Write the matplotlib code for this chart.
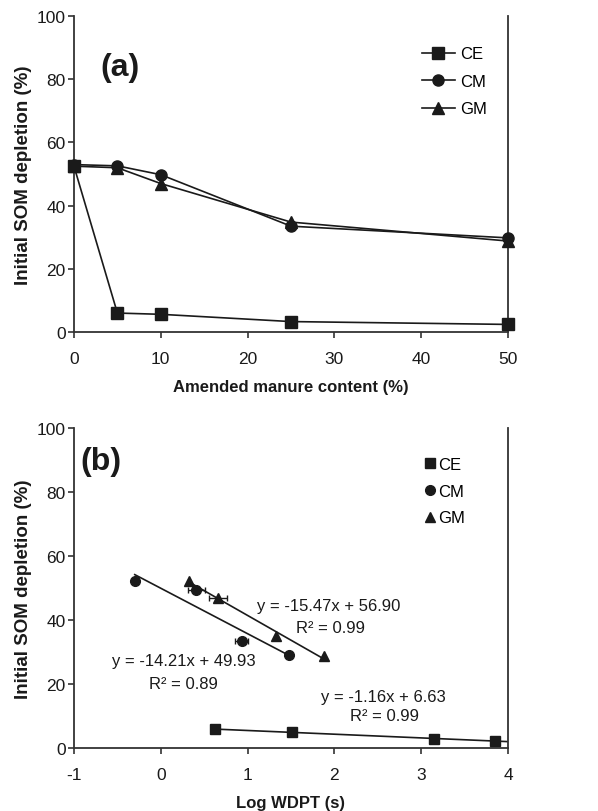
import matplotlib.pyplot as plt
from matplotlib.lines import Line2D

plt.rcParams['font.family'] = ['Liberation Sans', 'DejaVu Sans']
plt.rcParams['axes.unicode_minus'] = False

# Panel (a) data
manure = [0, 5, 10, 25, 50]
ce_a = [52.5, 6.0, 5.6, 3.3, 2.4]
cm_a = [53.0, 52.6, 49.8, 33.5, 29.8]
gm_a = [52.5, 52.0, 47.0, 34.8, 28.8]

# Panel (b) data
ce_x = [0.63, 1.51, 3.15, 3.85]
ce_y = [5.8, 5.0, 2.9, 2.2]
cm_x = [-0.30, 0.41, 0.93, 1.48]
cm_y = [52.2, 49.5, 33.5, 29.1]
cm_xerr = [0.0, 0.10, 0.075, 0.0]
gm_x = [0.32, 0.66, 1.33, 1.88]
gm_y = [52.3, 47.0, 35.0, 28.6]
gm_xerr = [0.0, 0.10, 0.0, 0.0]

# fitted lines (slope, intercept, x start, x end)
ce_fit = (-1.16, 6.63, 0.63, 4.0)
cm_fit = (-14.21, 49.93, -0.30, 1.48)
gm_fit = (-15.47, 56.90, 0.32, 1.90)

ink = '#1a1a1a'
spine_col = '#333333'

fig = plt.figure(figsize=(5.98, 8.12), dpi=100)
ax_a = fig.add_axes([0.1237, 0.5899, 0.7258, 0.389])
ax_b = fig.add_axes([0.1237, 0.0776, 0.7258, 0.394])


def style_axes(ax):
    for side in ['left', 'bottom', 'right']:
        ax.spines[side].set_color(spine_col)
        ax.spines[side].set_linewidth(1.3)
    ax.spines['top'].set_visible(False)
    ax.tick_params(direction='out', length=4, width=1.2, colors=spine_col,
                   labelsize=12.5, labelcolor=ink, right=False, top=False)
    ax.tick_params(axis='x', pad=10)
    ax.tick_params(axis='y', pad=2)
    ax.set_ylim(0, 100)
    ax.set_yticks([0, 20, 40, 60, 80, 100])
    ax.set_ylabel('Initial SOM depletion (%)', fontsize=13.5,
                  fontweight='bold', color=ink, labelpad=3)


# (a)
ax_a.plot(manure, ce_a, '-s', color=ink, lw=1.2, ms=8, label='CE',
          clip_on=False, zorder=3)
ax_a.plot(manure, cm_a, '-o', color=ink, lw=1.2, ms=8, label='CM',
          clip_on=False, zorder=3)
ax_a.plot(manure, gm_a, '-^', color=ink, lw=1.2, ms=8, label='GM',
          clip_on=False, zorder=3)
ax_a.set_xlim(0, 50)
ax_a.set_xticks([0, 10, 20, 30, 40, 50])
style_axes(ax_a)
ax_a.set_xlabel('Amended manure content (%)', fontsize=12, fontweight='bold',
                color=ink, labelpad=9)
ax_a.text(5.3, 84.0, '(a)', fontsize=23, fontweight='bold', color=ink,
          ha='center', va='center')
ax_a.legend(loc='upper right', frameon=False, fontsize=12, handlelength=2.0,
            borderaxespad=0.0, labelspacing=0.75, handletextpad=0.3,
            bbox_to_anchor=(0.967, 0.925))

# (b)
ax_b.plot(ce_x, ce_y, 's', color=ink, ms=7, clip_on=False, zorder=3)
ax_b.errorbar(cm_x, cm_y, xerr=cm_xerr, fmt='o', color=ink, ms=7, capsize=2,
              elinewidth=1, clip_on=False, zorder=3)
ax_b.errorbar(gm_x, gm_y, xerr=gm_xerr, fmt='^', color=ink, ms=7, capsize=2,
              elinewidth=1, clip_on=False, zorder=3)
for slope, icpt, x0, x1 in [ce_fit, cm_fit, gm_fit]:
    ax_b.plot([x0, x1], [slope * x0 + icpt, slope * x1 + icpt], '-',
              color=ink, lw=1.2)
ax_b.set_xlim(-1, 4)
ax_b.set_xticks([-1, 0, 1, 2, 3, 4])
style_axes(ax_b)
ax_b.set_xlabel('Log WDPT (s)', fontsize=12, fontweight='bold', color=ink,
                labelpad=9)
ax_b.text(-0.69, 89.7, '(b)', fontsize=23, fontweight='bold', color=ink,
          ha='center', va='center')

eq_kw = dict(fontsize=12, color=ink, ha='center', va='center')
ax_b.text(1.94, 44.4, 'y = -15.47x + 56.90', **eq_kw)
ax_b.text(1.96, 37.8, 'R² = 0.99', **eq_kw)
ax_b.text(0.26, 27.2, 'y = -14.21x + 49.93', **eq_kw)
ax_b.text(0.26, 20.3, 'R² = 0.89', **eq_kw)
ax_b.text(2.56, 16.2, 'y = -1.16x + 6.63', **eq_kw)
ax_b.text(2.58, 10.3, 'R² = 0.99', **eq_kw)

handles_b = [Line2D([], [], ls='none', marker=m, color=ink, ms=7)
             for m in ['s', 'o', '^']]
ax_b.legend(handles_b, ['CE', 'CM', 'GM'], loc='upper right', frameon=False,
            fontsize=12, handlelength=0.6, borderaxespad=0.0,
            labelspacing=0.7, handletextpad=0.2,
            bbox_to_anchor=(0.917, 0.93))

fig.savefig('out.png', dpi=100)
